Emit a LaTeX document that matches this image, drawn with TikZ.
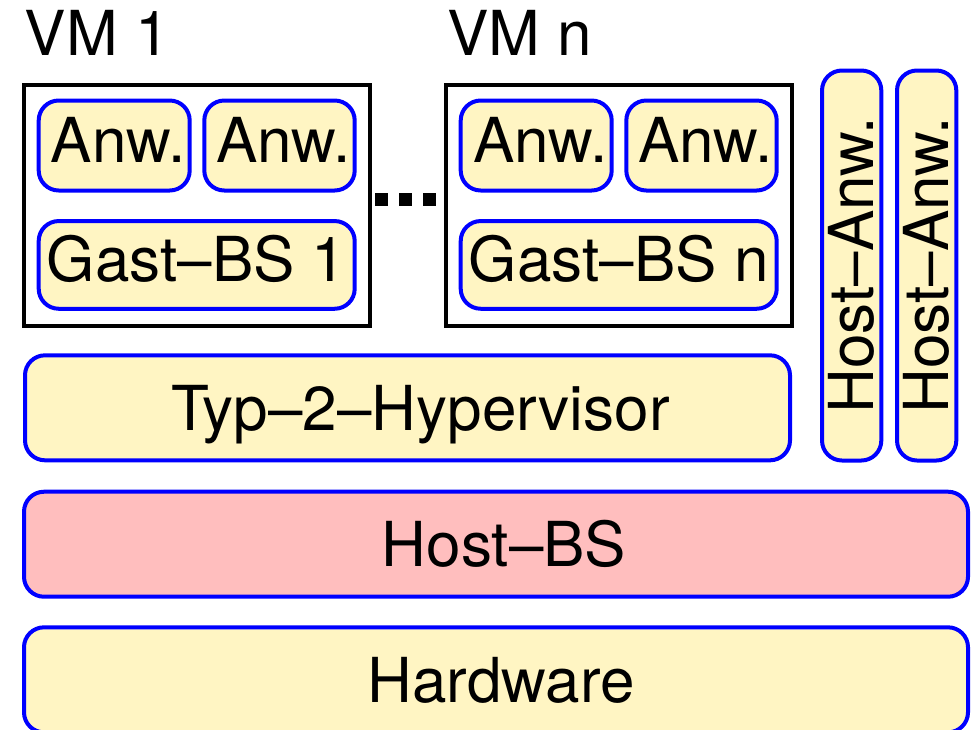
\documentclass[tikz,border=0pt]{standalone}
\usepackage{fontspec}
\setmainfont{TeX Gyre Heros}
\definecolor{boxgelb}{RGB}{255,245,195}
\definecolor{boxrot}{RGB}{255,190,190}
\begin{document}
\begin{tikzpicture}[x=0.5pt, y=-0.5pt,
	every node/.style={inner sep=0pt, outer sep=0pt, font=\fontsize{31}{36}\selectfont},
	vmbox/.style={draw=black, line width=2pt, minimum width=173.25pt, minimum height=120.1pt},
	anwbox/.style={draw=blue, fill=boxgelb, line width=2pt, rounded corners=10pt,
		text height=22.3pt, text depth=5.8pt},
	schicht/.style={draw=blue, line width=2pt, rounded corners=10pt,
		text height=22.3pt, text depth=0pt},
	punkt/.style={fill=black, minimum size=6.5pt}]
	\useasboundingbox (0,0) rectangle (972,729);
	
	% 1. Virtuelle Maschinen
	\node[vmbox] (vm1) at (196.75,205.4) {};
	\node[vmbox] (vmn) at (618.75,205.4) {};
	\node[anchor=base west] (vm1lbl) at (25,55) {VM 1};
	\node[anchor=base west] (vmnlbl) at (447,55) {VM n};
	
	% Anwendungen und Gast-BS in VM 1
	\node[anwbox, minimum width=75.5pt, minimum height=45pt] (anw11) at (114.2,145.5) {\hspace*{4pt}Anw.};
	\node[anwbox, minimum width=75.2pt, minimum height=45pt] (anw12) at (279.5,145.5) {\hspace*{4pt}Anw.};
	\node[anwbox, minimum width=158pt, minimum height=43.85pt] (gast1) at (196.7,264.9) {Gast–BS 1};
	
	% Anwendungen und Gast-BS in VM n
	\node[anwbox, minimum width=75.5pt, minimum height=45pt] (anwn1) at (536.2,145.5) {\hspace*{4pt}Anw.};
	\node[anwbox, minimum width=75.2pt, minimum height=45pt] (anwn2) at (701.5,145.5) {\hspace*{4pt}Anw.};
	\node[anwbox, minimum width=158pt, minimum height=43.85pt] (gastn) at (618.7,264.9) {Gast–BS n};
	
	% Punkte zwischen den VMs
	\foreach \i/\px in {1/381.5, 2/405.5, 3/429.5}
		\node[punkt] (punkt\i) at (\px,199) {};
	
	% 2. Hypervisor und Host-Anwendungen
	\node[schicht, fill=boxgelb, minimum width=382.5pt, minimum height=52.5pt] (hyper) at (407.5,407.8) {\hspace*{13pt}Typ–2–Hypervisor};
	\node[schicht, fill=boxgelb, rotate=90, minimum width=195pt, minimum height=29.65pt] (hanw1) at (851.65,265.5) {Host–Anw.};
	\node[schicht, fill=boxgelb, rotate=90, minimum width=195pt, minimum height=29.65pt] (hanw2) at (926.65,265.5) {Host–Anw.};
	
	% 3. Host-BS und Hardware
	\node[schicht, fill=boxrot, minimum width=472pt, minimum height=52.5pt] (hostbs) at (496,544.2) {\hspace*{8pt}Host–BS};
	\node[schicht, fill=boxgelb, minimum width=472pt, minimum height=52.5pt] (hw) at (496,679.8) {\hspace*{5pt}Hardware};
\end{tikzpicture}
\end{document}
